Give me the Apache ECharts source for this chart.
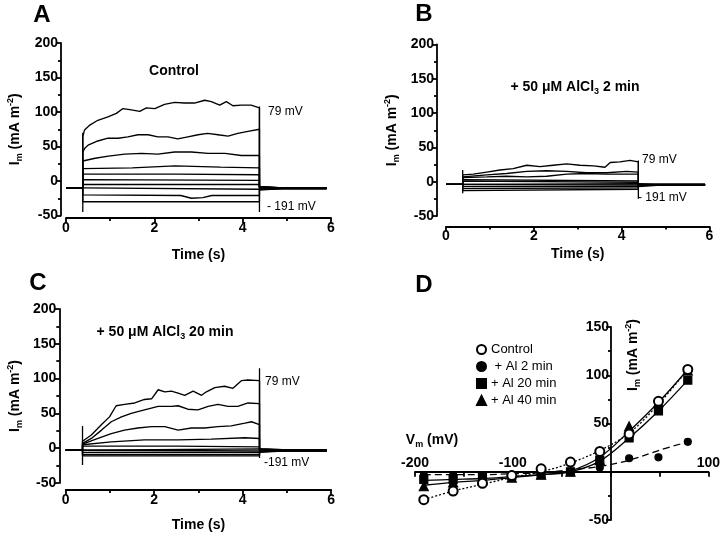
<!DOCTYPE html>
<html>
<head>
<meta charset="utf-8">
<script src="https://cdn.jsdelivr.net/npm/echarts@6.0.0/dist/echarts.min.js"></script>
<style>
  html, body { margin: 0; background: #fff; }
  #chart { width: 723px; height: 533px; }
</style>
</head>
<body>
<div id="chart"></div>
<script>
// 膜电流记录 A/B/C + I-V 曲线 D
const FONT = '"Liberation Sans", Arial, sans-serif';
const tOn = 0.38, tOff = 4.38, tEnd = 5.9;

// ---- A: Control, traces at 79 ... -191 mV (t in s, I in mA m-2)
const holdA = -10;
const a79 = [[0.38,64],[0.42,74],[0.54,81],[0.72,88],[0.95,93],[1.14,98],[1.29,105],[1.48,103],[1.67,101],[1.82,106],[2.01,105],[2.23,111],[2.46,114],[2.68,113],[2.91,113],[3.14,117],[3.29,115],[3.48,110],[3.63,115],[3.78,109],[3.97,110],[4.19,110],[4.38,106]];
const a49 = [[0.38,42],[0.42,47],[0.5,52],[0.72,58],[0.95,62],[1.18,62],[1.4,64],[1.63,67],[1.86,67],[2.08,64],[2.31,64],[2.53,61],[2.76,64],[2.99,67],[3.21,69],[3.44,67],[3.67,65],[3.89,69],[4.12,72],[4.38,75]];
const a19 = [[0.38,29],[0.66,33],[0.96,36],[1.33,39],[1.71,40],[2.08,39],[2.46,42],[2.84,42],[3.22,40],[3.6,40],[3.97,37],[4.38,37]];
const aM11 = [[0.38,18],[1.5,19],[2.47,22],[3.5,20],[4.38,19]];
const aM41 = [[0.38,10],[2.5,10],[4.38,9]];
const aM71 = [[0.38,2],[4.38,1]];
const aM101 = [[0.38,-5],[4.38,-5]];
const aM131 = [[0.38,-12],[4.38,-12]];
const aM161 = [[0.38,-20],[2.6,-21],[2.84,-25],[3.1,-24],[3.3,-21],[4.38,-21]];
const aM191 = [[0.38,-30],[4.38,-30]];
const tailA = [-8,-8,-9,-9,-10,-10,-11,-11,-12,-13];
const tailEndA = [-10,-10,-10,-10,-10,-11,-11,-11,-11,-11];
const spikeA = [[0.38,-45,70],[4.38,-45,108]];

// ---- B: + 50 uM AlCl3 2 min
const holdB = -4;
const b79 = [[0.38,10],[0.62,11],[0.93,14],[1.23,17],[1.53,19],[1.84,24],[2.14,22],[2.44,24],[2.75,26],[3.05,24],[3.36,23],[3.62,21],[3.74,28],[3.96,29],[4.19,31],[4.38,29]];
const b49 = [[0.38,7],[0.93,10],[1.38,12],[1.84,15],[2.29,16],[2.75,15],[3.2,13],[3.66,13],[4.11,15],[4.38,14]];
const b19 = [[0.38,6],[0.93,7],[1.38,8],[1.84,7],[2.29,8],[2.75,11],[3.2,12],[3.66,11],[4.38,11]];
const bM11 = [[0.38,3],[4.38,1]];
const bM41 = [[0.38,1],[4.38,-1]];
const bM71 = [[0.38,-2],[4.38,-3]];
const bM101 = [[0.38,-5],[4.38,-5]];
const bM131 = [[0.38,-7],[4.38,-7]];
const bM161 = [[0.38,-10],[4.38,-9]];
const bM191 = [[0.38,-13],[4.38,-11]];
const tailB = [-4,-4,-4,-4,-4,-5,-5,-5,-5,-5];
const tailEndB = [-4,-4,-4,-4,-4,-5,-5,-5,-5,-5];
const spikeB = [[0.38,-17,17],[4.38,-25,31]];

// ---- C: + 50 uM AlCl3 20 min
const holdC = -3;
const c79 = [[0.38,10],[0.58,19],[0.81,34],[0.99,45],[1.14,61],[1.33,63],[1.56,65],[1.78,70],[1.94,71],[2.09,84],[2.24,81],[2.39,82],[2.54,79],[2.69,76],[2.88,82],[3.07,76],[3.18,81],[3.37,87],[3.59,89],[3.78,86],[3.97,97],[4.12,98],[4.38,97]];
const c49 = [[0.38,7],[0.58,14],[0.81,26],[1.03,38],[1.26,45],[1.48,50],[1.78,55],[2.09,60],[2.39,60],[2.54,61],[2.76,56],[2.99,55],[3.22,60],[3.44,63],[3.67,60],[3.89,60],[4.12,65],[4.38,64]];
const c19 = [[0.38,6],[0.73,14],[1.03,21],[1.33,26],[1.63,29],[1.94,31],[2.24,31],[2.54,26],[2.84,29],[3.14,29],[3.44,31],[3.74,32],[4.05,36],[4.2,38],[4.38,34]];
const cM11 = [[0.38,5],[1.03,9],[1.78,12],[2.54,12],[3.29,13],[4.05,15],[4.38,14]];
const cM41 = [[0.38,3],[2.5,3],[4.38,2]];
const cM71 = [[0.38,-1],[4.38,-1]];
const cM101 = [[0.38,-4],[4.38,-4]];
const cM131 = [[0.38,-6],[4.38,-6]];
const cM161 = [[0.38,-9],[4.38,-9]];
const cM191 = [[0.38,-11],[4.38,-11]];
const tailC = [-1,-1,-2,-2,-3,-3,-4,-4,-5,-5];
const tailEndC = [-2,-2,-2,-3,-3,-3,-3,-4,-4,-4];
const spikeC = [[0.38,-24,32],[4.38,-14,115]];

// ---- D: I-V
const vm = [-191,-161,-131,-101,-71,-41,-11,19,49,79];
const ivControl = [-29,-20,-12,-4,3,10,21,39,73,106];
const ivAl2 = [-3.5,-3.5,-4,-3,-2,0,4.5,14,15,31];
const ivAl20 = [-8,-8,-6,-4,-3,0,12,35,63,95];
const ivAl40 = [-15,-11,-9,-6,-3,0,12,47,72,105];
const fitControl = [-29,-20,-13,-6,0,9,22,40,70,106];
const fitAl2 = [-3,-3,-3,-2,-1,2,5.5,12,22,31];
const fitAl20 = [-9,-8,-7,-5,-3,0,11,35,63,95];
const fitAl40 = [-14,-11,-9,-6,-3,1,15,42,72,106];

const txt = { fontFamily: FONT, color: '#000' };
const black = { color: '#000', width: 1.8 };
const imRich = {
  b: { fontFamily: FONT, fontWeight: 'bold', fontSize: 14, color: '#000', lineHeight: 18 },
  s: { fontFamily: FONT, fontWeight: 'bold', fontSize: 9, color: '#000', verticalAlign: 'bottom', lineHeight: 10 },
  p: { fontFamily: FONT, fontWeight: 'bold', fontSize: 9, color: '#000', verticalAlign: 'top', lineHeight: 10 },
  r: { fontFamily: FONT, fontWeight: 'bold', fontSize: 14, color: '#000', lineHeight: 18 }
};
const IM_NAME = '{b|I}{s|m}{b| (mA m}{p|-2}{b|)}';

function timeAxis(gi, offset, gap) {
  return {
    gridIndex: gi, type: 'value', min: 0, max: 6, interval: 2, offset: offset,
    name: 'Time (s)', nameLocation: 'middle', nameGap: gap,
    nameTextStyle: { ...txt, fontWeight: 'bold', fontSize: 14 },
    axisLine: { onZero: false, lineStyle: black },
    axisTick: { length: 5, lineStyle: black },
    minorTick: { show: true, splitNumber: 2, length: 3, lineStyle: black },
    axisLabel: { ...txt, fontWeight: 'bold', fontSize: 14, margin: 3 },
    splitLine: { show: false }, minorSplitLine: { show: false }
  };
}
function currentAxis(gi, offset, gap) {
  return {
    gridIndex: gi, type: 'value', min: -50, max: 200, interval: 50, offset: offset,
    name: IM_NAME, nameLocation: 'middle', nameGap: gap,
    nameTextStyle: { rich: imRich },
    axisLine: { onZero: false, lineStyle: black },
    axisTick: { length: 5, lineStyle: black },
    minorTick: { show: true, splitNumber: 2, length: 3, lineStyle: black },
    axisLabel: { ...txt, fontWeight: 'bold', fontSize: 14, margin: 3 },
    splitLine: { show: false }, minorSplitLine: { show: false }
  };
}

function traces(list, hold, tails, tailEnds, gi) {
  return list.map((tr, i) => ({
    type: 'line', xAxisIndex: gi, yAxisIndex: gi, symbol: 'none', silent: true,
    lineStyle: { color: '#000', width: 1.35 },
    data: [[0, hold], [tOn, hold]].concat(tr, [[tOff, tails[i]], [4.9, tailEnds[i]], [tEnd, tailEnds[i]]])
  }));
}
function spikes(list, gi) {
  return list.map(s => ({
    type: 'line', xAxisIndex: gi, yAxisIndex: gi, symbol: 'none', silent: true,
    lineStyle: { color: '#000', width: 1.3 },
    data: [[s[0], s[1]], [s[0], s[2]]]
  }));
}
function fit(vals, type) {
  return {
    type: 'line', xAxisIndex: 3, yAxisIndex: 3, symbol: 'none', smooth: 0.35, silent: true,
    lineStyle: { color: '#000', width: 1.3, type: type },
    data: vm.map((v, i) => [v, vals[i]])
  };
}
function points(name, vals, symbol, size) {
  return {
    name: name, type: 'scatter', xAxisIndex: 3, yAxisIndex: 3, z: 5,
    symbol: symbol, symbolSize: size,
    itemStyle: { color: '#000', borderColor: '#000', borderWidth: 1.2, opacity: 1 },
    data: vm.map((v, i) => [v, vals[i]])
  };
}

const series = [].concat(
  traces([a79, a49, a19, aM11, aM41, aM71, aM101, aM131, aM161, aM191], holdA, tailA, tailEndA, 0),
  spikes(spikeA, 0),
  traces([b79, b49, b19, bM11, bM41, bM71, bM101, bM131, bM161, bM191], holdB, tailB, tailEndB, 1),
  spikes(spikeB, 1),
  traces([c79, c49, c19, cM11, cM41, cM71, cM101, cM131, cM161, cM191], holdC, tailC, tailEndC, 2),
  spikes(spikeC, 2),
  [fit(fitAl40, 'solid'), fit(fitAl20, 'solid'), fit(fitAl2, [7, 4]), fit(fitControl, [2, 2])],
  [points('+ Al 40 min', ivAl40, 'triangle', 9),
   points('+ Al 20 min', ivAl20, 'rect', 8),
   points(' + Al 2 min', ivAl2, 'circle', 7),
   points('Control', ivControl, 'emptyCircle', 9)]
);

function label(x, y, text, size, weight, align) {
  return {
    type: 'text', x: x, y: y,
    style: { text: text, fontFamily: FONT, fontSize: size, fontWeight: weight, fill: '#000',
             align: align || 'center', verticalAlign: 'middle', rich: imRich }
  };
}

// D 的坐标轴交于原点：x=0 在 611px，y=0 在 472px
const gridD = { left: 415, top: 327, width: 294, height: 193 };

const option = {
  animation: false,
  backgroundColor: '#fff',
  grid: [
    { left: 66, top: 43, width: 265, height: 172.5 },
    { left: 446, top: 44.5, width: 263.5, height: 171.5 },
    { left: 65.7, top: 309, width: 265.5, height: 174 },
    gridD
  ],
  xAxis: [
    timeAxis(0, 2.5, 30),
    timeAxis(1, 10.5, 21),
    timeAxis(2, 7, 28),
    {
      gridIndex: 3, type: 'value', min: -200, max: 100, interval: 50, position: 'top',
      offset: -(gridD.height * 150 / 200),
      axisLine: { onZero: false, lineStyle: black },
      axisTick: { inside: true, length: 5, lineStyle: black },
      axisLabel: { ...txt, fontWeight: 'bold', fontSize: 14, margin: 2,
        formatter: v => ([-200, -100, 100].indexOf(v) > -1 ? String(v) : '') },
      splitLine: { show: false }
    }
  ],
  yAxis: [
    currentAxis(0, 5, 37),
    currentAxis(1, 9, 36),
    currentAxis(2, 6.4, 35),
    {
      gridIndex: 3, type: 'value', min: -50, max: 150, interval: 50,
      offset: -(gridD.width * 200 / 300),
      axisLine: { onZero: false, lineStyle: black },
      axisTick: { length: 5, lineStyle: black },
      minorTick: { show: true, splitNumber: 2, length: 3, lineStyle: black },
      axisLabel: { ...txt, fontWeight: 'bold', fontSize: 14, margin: 2,
        formatter: v => (v === 0 ? '' : String(v)) },
      splitLine: { show: false }, minorSplitLine: { show: false }
    }
  ],
  legend: {
    data: ['Control', ' + Al 2 min', '+ Al 20 min', '+ Al 40 min'],
    orient: 'vertical', left: 471, top: 338, itemWidth: 9, itemHeight: 9, itemGap: 4,
    selectedMode: false,
    textStyle: { ...txt, fontSize: 13 }
  },
  graphic: [
    label(42, 15, 'A', 24, 'bold'),
    label(424, 14, 'B', 24, 'bold'),
    label(38, 283, 'C', 24, 'bold'),
    label(424, 285, 'D', 24, 'bold'),
    label(174, 71, 'Control', 14, 'bold'),
    label(575, 87, '{r|+ 50 μM AlCl}{s|3}{r| 2 min}', 14, 'bold'),
    label(165, 332, '{r|+ 50 μM AlCl}{s|3}{r| 20 min}', 14, 'bold'),
    label(268, 112, '79 mV', 12, 'normal', 'left'),
    label(267, 207, '- 191 mV', 12, 'normal', 'left'),
    label(642, 160, '79 mV', 12, 'normal', 'left'),
    label(638, 198, '- 191 mV', 12, 'normal', 'left'),
    label(265, 382, '79 mV', 12, 'normal', 'left'),
    label(264, 463, '-191 mV', 12, 'normal', 'left'),
    label(432, 440, '{r|V}{s|m}{r| (mV)}', 14, 'bold'),
    Object.assign(label(633, 355, IM_NAME, 14, 'bold'), { rotation: Math.PI / 2 })
  ],
  series: series
};

const chart = echarts.init(document.getElementById('chart'));
chart.setOption(option);
</script>
</body>
</html>
